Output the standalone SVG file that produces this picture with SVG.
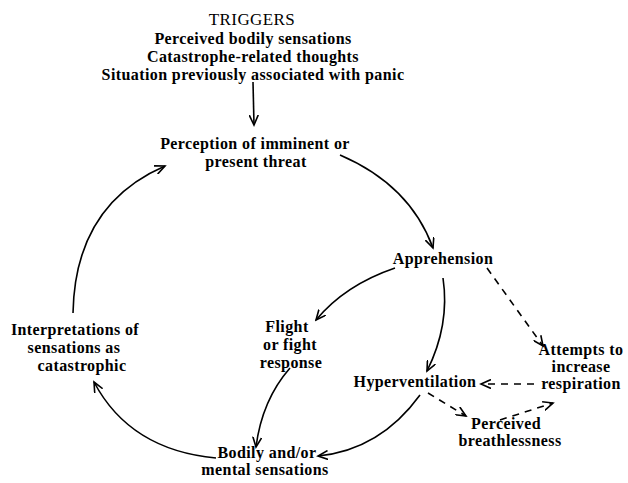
<svg xmlns="http://www.w3.org/2000/svg" width="628" height="483" viewBox="0 0 628 483">
<defs>
<style>
text{font-family:"Liberation Serif","Times New Roman",serif;font-size:16px;letter-spacing:0.4px;font-weight:bold;fill:#000;text-anchor:middle}
.t{font-weight:normal;font-size:17px}
.c{fill:none;stroke:#000;stroke-width:1.6}
.d{fill:none;stroke:#000;stroke-width:1.6;stroke-dasharray:7 6}
</style>
<marker id="a" markerWidth="12" markerHeight="10" refX="10" refY="5" orient="auto" markerUnits="userSpaceOnUse">
<path d="M0,0.5 L10,5 L0,9.5" fill="none" stroke="#000" stroke-width="1.6"/>
</marker>
</defs>
<rect width="628" height="483" fill="#fff"/>
<g id="triggers">
<text x="252" y="25" class="t">TRIGGERS</text>
<text x="253" y="44">Perceived bodily sensations</text>
<text x="253" y="62">Catastrophe-related thoughts</text>
<text x="253" y="80">Situation previously associated with panic</text>
</g>
<g id="perception">
<text x="255" y="149">Perception of imminent or</text>
<text x="256" y="167">present threat</text>
</g>
<g id="apprehension"><text x="443" y="264">Apprehension</text></g>
<g id="flight">
<text x="287" y="332">Flight</text>
<text x="290" y="350">or fight</text>
<text x="291" y="368">response</text>
</g>
<g id="interpretations">
<text x="75" y="335">Interpretations of</text>
<text x="74" y="353">sensations as</text>
<text x="82" y="371">catastrophic</text>
</g>
<g id="hyperventilation"><text x="415" y="387">Hyperventilation</text></g>
<g id="attempts">
<text x="581" y="355">Attempts to</text>
<text x="581" y="372">increase</text>
<text x="581" y="389">respiration</text>
</g>
<g id="breathlessness">
<text x="506" y="429">Perceived</text>
<text x="510" y="446">breathlessness</text>
</g>
<g id="bodily">
<text x="267" y="458">Bodily and/or</text>
<text x="265" y="475">mental sensations</text>
</g>
<g id="connectors">
<path class="c" d="M253,82 L254,125" marker-end="url(#a)"/>
<path class="c" d="M340,155 Q410,185 433,248" marker-end="url(#a)"/>
<path class="c" d="M395,268 Q345,285 316,320" marker-end="url(#a)"/>
<path class="c" d="M443,278 Q450,325 427,371" marker-end="url(#a)"/>
<path class="c" d="M290,368 Q262,400 256,447" marker-end="url(#a)"/>
<path class="c" d="M420,395 Q380,450 318,456" marker-end="url(#a)"/>
<path class="c" d="M216,458 Q130,450 94,382" marker-end="url(#a)"/>
<path class="c" d="M73,313 Q75,205 165,166" marker-end="url(#a)"/>
<path class="d" d="M487,268 L543,346" marker-end="url(#a)"/>
<path class="d" d="M534,384 L481,384" marker-end="url(#a)"/>
<path class="d" d="M428,393 L466,416" marker-end="url(#a)"/>
<path class="d" d="M500,420 L553,403" marker-end="url(#a)"/>
</g>
</svg>
